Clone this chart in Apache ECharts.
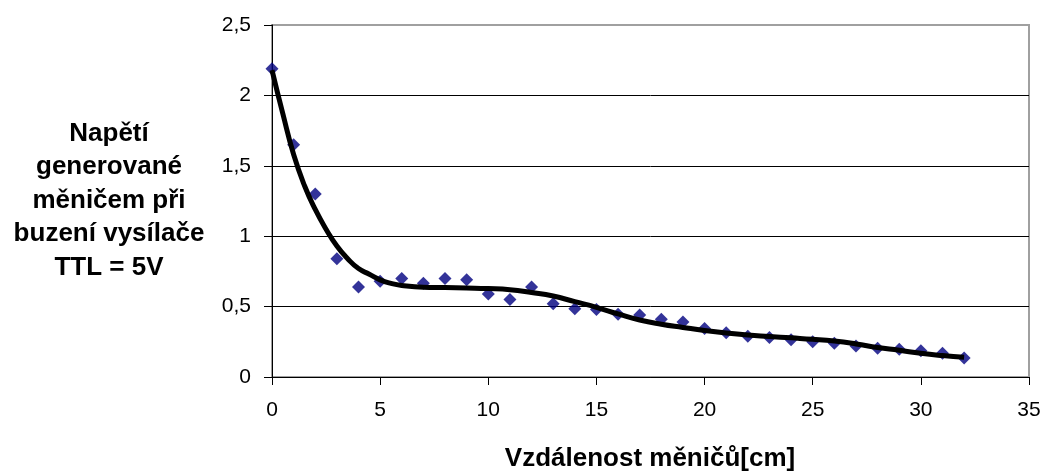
<!DOCTYPE html>
<html>
<head>
<meta charset="utf-8">
<script src="https://cdn.jsdelivr.net/npm/echarts@6/dist/echarts.min.js"></script>
<style>
  html, body { margin: 0; padding: 0; background: #fff; }
  #chart { width: 1046px; height: 475px; }
</style>
</head>
<body>
<div id="chart"></div>
<script>
// measured points (distance in cm, voltage in V)
var distances = [0, 1, 2, 3, 4, 5, 6, 7, 8, 9, 10, 11, 12, 13, 14, 15, 16,
    17, 18, 19, 20, 21, 22, 23, 24, 25, 26, 27, 28, 29, 30, 31, 32];
var voltages = [2.19, 1.65, 1.3, 0.84, 0.64, 0.68, 0.70, 0.665, 0.70, 0.69, 0.59,
    0.55, 0.64, 0.52, 0.485, 0.48, 0.445, 0.44, 0.41, 0.39, 0.345, 0.315, 0.29,
    0.28, 0.265, 0.25, 0.24, 0.22, 0.205, 0.197, 0.187, 0.168, 0.135];

// trend line
var trendX = [0, 0.5, 1, 1.5, 2, 2.5, 3, 3.5, 4, 4.5, 5, 5.5, 6, 7, 8, 9, 10, 11,
    12, 13, 14, 15, 16, 17, 18, 19, 20, 21, 22, 23, 24, 25, 26, 27, 28, 29, 30, 31, 32];
var trendY = [2.18, 1.87, 1.58, 1.36, 1.19, 1.05, 0.93, 0.84, 0.77, 0.73, 0.69, 0.665,
    0.65, 0.637, 0.635, 0.632, 0.628, 0.62, 0.60, 0.575, 0.535, 0.495, 0.448, 0.405,
    0.375, 0.352, 0.33, 0.312, 0.298, 0.288, 0.278, 0.268, 0.255, 0.235, 0.21, 0.19,
    0.168, 0.152, 0.14];

var yTickLabels = ['0', '0,5', '1', '1,5', '2', '2,5'];

var yTitle = 'Napětí\ngenerované\nměničem při\nbuzení vysílače\nTTL = 5V';
var xTitle = 'Vzdálenost měničů[cm]';

var points = [];
for (var i = 0; i < distances.length; i++) {
    points.push([distances[i], voltages[i]]);
}
var trend = [];
for (var j = 0; j < trendX.length; j++) {
    trend.push([trendX[j], trendY[j]]);
}

var font = '"Liberation Sans", Arial, sans-serif';
var myChart = echarts.init(document.getElementById('chart'));

var option = {
    animation: false,
    title: [
        {
            text: yTitle,
            left: 109,
            top: 117,
            textAlign: 'center',
            padding: 0,
            textStyle: {
                fontFamily: font,
                fontSize: 26,
                fontWeight: 'bold',
                lineHeight: 33.5,
                color: '#000'
            }
        },
        {
            text: xTitle,
            left: 650,
            top: 446,
            textAlign: 'center',
            padding: 0,
            textStyle: {
                fontFamily: font,
                fontSize: 26,
                fontWeight: 'bold',
                lineHeight: 26,
                color: '#000'
            }
        }
    ],
    grid: {
        left: 272,
        right: 17,
        top: 25,
        bottom: 98,
        show: true,
        borderColor: '#a0a0a0',
        borderWidth: 2
    },
    xAxis: {
        type: 'value',
        min: 0,
        max: 35,
        interval: 5,
        axisLine: { lineStyle: { color: '#000', width: 1 } },
        axisTick: { show: true, inside: false, length: 8, lineStyle: { color: '#000' } },
        axisLabel: { fontFamily: font, fontSize: 21, color: '#000', margin: 23 },
        splitLine: { show: false }
    },
    yAxis: {
        type: 'value',
        min: 0,
        max: 2.5,
        interval: 0.5,
        axisLine: { show: true, lineStyle: { color: '#000', width: 1 } },
        axisTick: { show: true, inside: false, length: 8, lineStyle: { color: '#000' } },
        axisLabel: {
            fontFamily: font,
            fontSize: 21,
            color: '#000',
            margin: 21,
            formatter: function (v) {
                var k = Math.round(v / 0.5);
                return yTickLabels[k];
            }
        },
        splitLine: {
            show: true,
            lineStyle: {
                color: ['#000', '#000', '#000', '#000', '#000', '#a0a0a0'],
                width: 1
            }
        }
    },
    series: [
        {
            name: 'měření',
            type: 'scatter',
            data: points,
            symbol: 'diamond',
            symbolSize: 13,
            itemStyle: { color: '#000080' },
            z: 2
        },
        {
            name: 'trend',
            type: 'line',
            data: trend,
            smooth: true,
            showSymbol: false,
            symbol: 'none',
            lineStyle: { color: '#000', width: 5 },
            z: 3
        }
    ]
};
myChart.setOption(option);
</script>
</body>
</html>
